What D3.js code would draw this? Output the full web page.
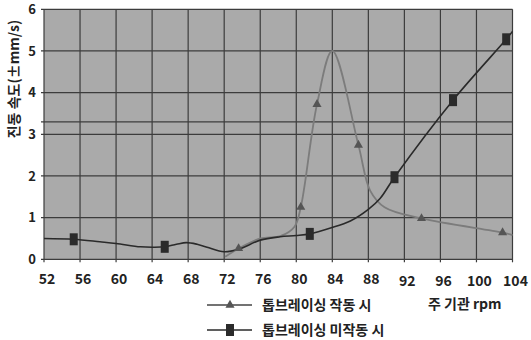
<!DOCTYPE html>
<html><head><meta charset="utf-8">
<script src="https://cdn.jsdelivr.net/npm/d3@7"></script>
<style>
html,body{margin:0;padding:0;background:#fff;}
svg text{font-family:"Noto Sans CJK KR","Noto Sans",sans-serif;font-weight:bold;fill:#222;}
</style></head>
<body><svg id="c" width="531" height="340"></svg>
<script>
// Series: 톱브레이싱 작동 시 (gray, triangles)
const rpmOn  = [72.1, 73.6, 76, 78.3, 79.8, 80.5, 82.3, 84, 86.9, 88.2, 89.8, 93.9, 102.9, 104];
const velOn  = [0.06, 0.26, 0.5, 0.56, 0.78, 1.25, 3.72, 5.0, 2.74, 1.65, 1.25, 0.98, 0.64, 0.58];
const markOn = [0, 1, 0, 0, 0, 1, 1, 0, 1, 0, 0, 1, 1, 0];
// Series: 톱브레이싱 미작동 시 (black, squares)
const rpmOff  = [52, 55.3, 58.2, 60, 62.7, 64.1, 65.4, 66.7, 67.8, 69, 70.1, 72, 73.6, 76, 78.2, 80, 81.5, 83.8, 86, 88, 89.3, 90.9, 97.4, 103.3, 104];
const velOff  = [0.5, 0.48, 0.42, 0.38, 0.30, 0.29, 0.30, 0.36, 0.40, 0.36, 0.29, 0.18, 0.24, 0.46, 0.54, 0.57, 0.61, 0.75, 0.92, 1.2, 1.46, 1.97, 3.82, 5.28, 5.47];
const markOff = [0, 1, 0, 0, 0, 0, 1, 0, 0, 0, 0, 0, 0, 0, 0, 0, 1, 0, 0, 0, 0, 1, 1, 1, 0];
const xTicks = [52, 56, 60, 64, 68, 72, 76, 80, 84, 88, 92, 96, 100, 104];
const yTicks = [0, 1, 2, 3, 4, 5, 6];
const extraGrid = [3.3];
const seriesNames = ["톱브레이싱 작동 시", "톱브레이싱 미작동 시"];
const yTitle = "진동 속도(±mm/s)";
const xTitle = "주 기관 rpm";

const svg = d3.select("#c");
const L = 44, R = 512.5, T = 9.3, B = 259.3;
const x = d3.scaleLinear().domain([52, 104]).range([L, R]);
const y = d3.scaleLinear().domain([0, 6]).range([B, T]);

svg.append("rect").attr("x", L).attr("y", T).attr("width", R - L).attr("height", B - T).attr("fill", "#aaaaaa");

const g = svg.append("g");
g.selectAll(".vg").data(xTicks).join("line")
  .attr("x1", d => x(d)).attr("x2", d => x(d)).attr("y1", T).attr("y2", B + 3)
  .attr("stroke", "#3c3c3c").attr("stroke-width", 1.2);
g.selectAll(".hg").data(yTicks.concat(extraGrid)).join("line")
  .attr("x1", L - 3).attr("x2", R).attr("y1", d => y(d)).attr("y2", d => y(d))
  .attr("stroke", "#3c3c3c").attr("stroke-width", 1.2);

svg.selectAll(".yl").data(yTicks).join("text")
  .attr("x", 36).attr("y", d => y(d)).attr("dy", "0.36em").attr("text-anchor", "end")
  .attr("font-size", 13).text(d => d);
svg.selectAll(".xl").data(xTicks).join("text")
  .attr("x", d => x(d) + 3).attr("y", d => d >= 92 ? 286 : 284).attr("text-anchor", "middle")
  .attr("font-size", 14).text(d => d);

svg.append("text").attr("transform", "translate(19,79) rotate(-90)").attr("text-anchor", "middle")
  .attr("font-size", 14).text(yTitle);
svg.append("text").attr("x", 428).attr("y", 309).attr("font-size", 14).text(xTitle);

const line = d3.line().x(d => x(d[0])).y(d => y(d[1])).curve(d3.curveCatmullRom.alpha(0.5));
const onPts = rpmOn.map((r, i) => [r, velOn[i], markOn[i]]);
const offPts = rpmOff.map((r, i) => [r, velOff[i], markOff[i]]);

svg.append("path").attr("d", line(onPts)).attr("fill", "none").attr("stroke", "#7c7c7c").attr("stroke-width", 1.8);
svg.append("path").attr("d", line(offPts)).attr("fill", "none").attr("stroke", "#2a2a2a").attr("stroke-width", 1.6);

const tri = d3.symbol().type(d3.symbolTriangle).size(36);
svg.selectAll(".tm").data(onPts.filter(d => d[2])).join("path")
  .attr("d", tri).attr("transform", d => `translate(${x(d[0])},${y(d[1])})`).attr("fill", "#555");
svg.selectAll(".sm").data(offPts.filter(d => d[2])).join("rect")
  .attr("x", d => x(d[0]) - 4).attr("y", d => y(d[1]) - 6).attr("width", 8).attr("height", 12)
  .attr("fill", "#2b2b2b");

const lg = [{ y: 305, c: "#555", lc: "#444", m: "tri" }, { y: 330, c: "#2b2b2b", lc: "#2a2a2a", m: "sq" }];
lg.forEach((d, i) => {
  svg.append("line").attr("x1", 207).attr("x2", 252).attr("y1", d.y).attr("y2", d.y).attr("stroke", d.lc).attr("stroke-width", 1.5);
  if (d.m === "tri") svg.append("path").attr("d", tri).attr("transform", `translate(230,${d.y})`).attr("fill", d.c);
  else svg.append("rect").attr("x", 226).attr("y", d.y - 6).attr("width", 8).attr("height", 12).attr("fill", d.c);
  svg.append("text").attr("x", 262).attr("y", d.y + 5).attr("font-size", 14).text(seriesNames[i]);
});
</script></body></html>
